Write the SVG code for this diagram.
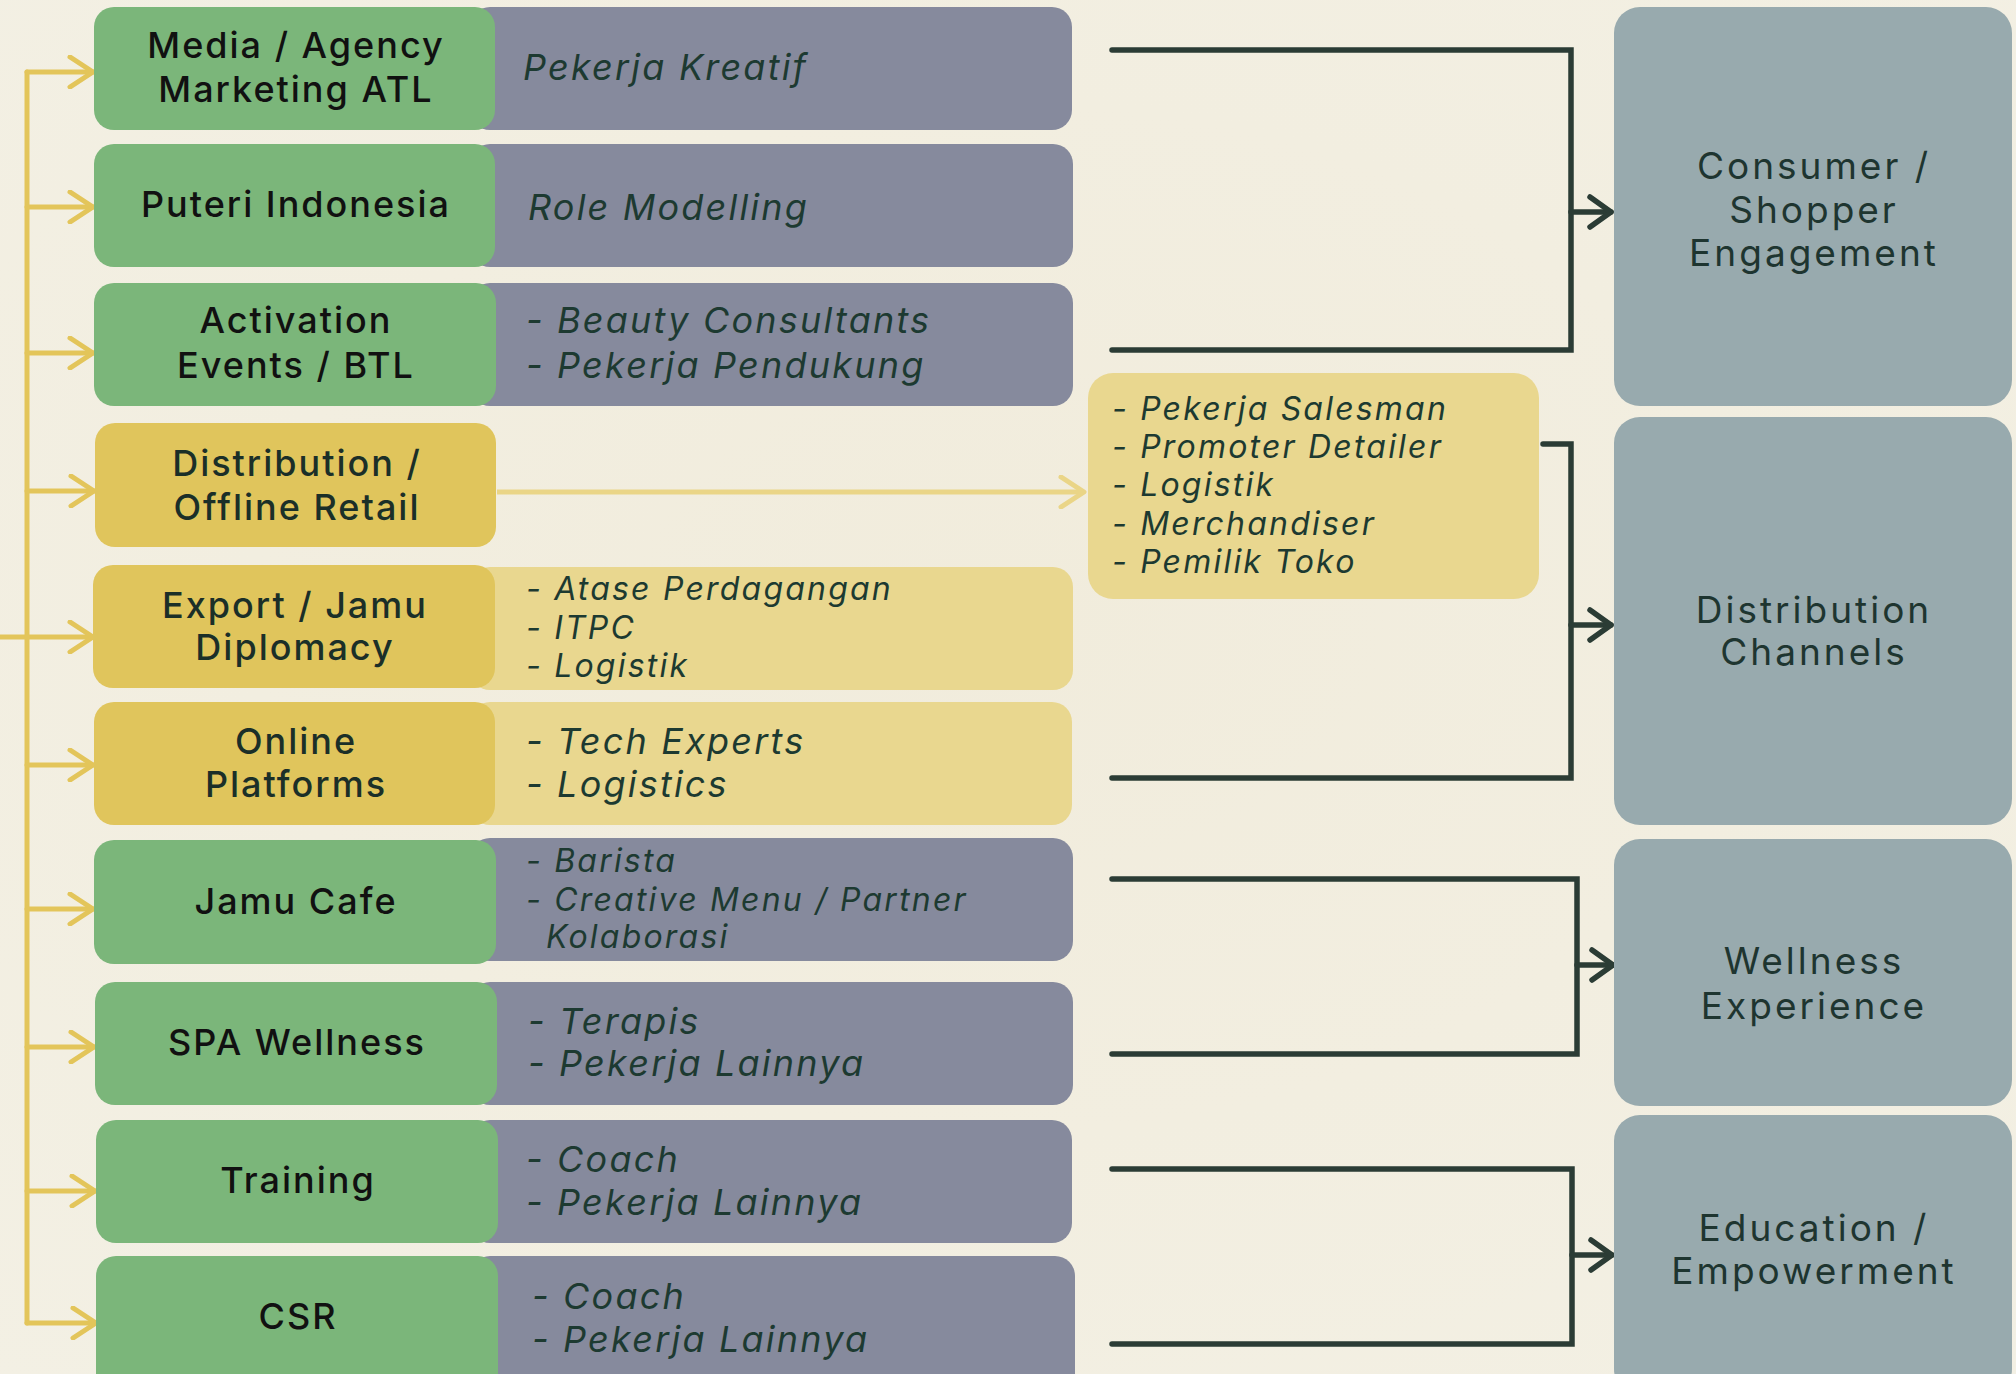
<svg xmlns="http://www.w3.org/2000/svg" width="2016" height="1374" viewBox="0 0 2016 1374">
<defs>
<radialGradient id="bg" cx="0.5" cy="0.45" r="0.75">
<stop offset="0" stop-color="#f1ecdc"/>
<stop offset="1" stop-color="#f3f0e4"/>
</radialGradient>
<marker id="ay" viewBox="0 0 30 34" refX="27" refY="17" markerWidth="30" markerHeight="34" markerUnits="userSpaceOnUse" orient="auto">
<path d="M4 2 L27 17 L4 32" fill="none" stroke="#e3c55a" stroke-width="5" stroke-linecap="round" stroke-linejoin="round"/>
</marker>
<marker id="ayl" viewBox="0 0 30 34" refX="27" refY="17" markerWidth="30" markerHeight="34" markerUnits="userSpaceOnUse" orient="auto">
<path d="M4 2 L27 17 L4 32" fill="none" stroke="#ead587" stroke-width="5" stroke-linecap="round" stroke-linejoin="round"/>
</marker>
<marker id="ad" viewBox="0 0 30 36" refX="26" refY="18" markerWidth="30" markerHeight="36" markerUnits="userSpaceOnUse" orient="auto">
<path d="M5 3 L26 18 L5 33" fill="none" stroke="#2b3c35" stroke-width="5.5" stroke-linecap="round" stroke-linejoin="round"/>
</marker>
</defs>
<style>
.g{fill:#7bb67a}
.y{fill:#e0c55c}
.ly{fill:#e9d78f}
.s{fill:#868a9d}
.r{fill:#98aaae}
.lab{font-family:Inter,"Noto Sans",sans-serif;font-size:36px;font-weight:500;letter-spacing:2px;fill:#111;text-anchor:middle}
.laby{font-family:Inter,"Noto Sans",sans-serif;font-size:36px;font-weight:500;letter-spacing:2px;fill:#1b2f28;text-anchor:middle}
.it{font-family:Inter,"Noto Sans",sans-serif;font-size:36px;font-style:italic;letter-spacing:2.2px;fill:#1d3a31}
.its{font-family:Inter,"Noto Sans",sans-serif;font-size:32px;font-style:italic;letter-spacing:2.2px;fill:#1d3a31}
.rt{font-family:Inter,"Noto Sans",sans-serif;font-size:37px;letter-spacing:3px;fill:#1e3530;text-anchor:middle}
.cy{fill:none;stroke:#e3c55a;stroke-width:5;stroke-linecap:round}
.cd{fill:none;stroke:#2b3c35;stroke-width:5.5;stroke-linecap:round}
</style>
<rect width="2016" height="1374" fill="url(#bg)"/>

<g id="connectors">
<path class="cy" d="M27 72 V1323 M0 637 H27"/>
<path class="cy" d="M27 72 H93" marker-end="url(#ay)"/>
<path class="cy" d="M27 207 H93" marker-end="url(#ay)"/>
<path class="cy" d="M27 353 H93" marker-end="url(#ay)"/>
<path class="cy" d="M27 491 H94" marker-end="url(#ay)"/>
<path class="cy" d="M27 637 H93" marker-end="url(#ay)"/>
<path class="cy" d="M27 765 H93" marker-end="url(#ay)"/>
<path class="cy" d="M27 909 H93" marker-end="url(#ay)"/>
<path class="cy" d="M27 1047 H94" marker-end="url(#ay)"/>
<path class="cy" d="M27 1191 H95" marker-end="url(#ay)"/>
<path class="cy" d="M27 1323 H96" marker-end="url(#ay)"/>
<path d="M497 492 H1084" fill="none" stroke="#ead587" stroke-width="5" marker-end="url(#ayl)"/>
<path class="cd" d="M1112 50 H1571 V350 H1112"/>
<path class="cd" d="M1571 212 H1611" marker-end="url(#ad)"/>
<path class="cd" d="M1543 444 H1571 V778 H1112"/>
<path class="cd" d="M1571 625 H1611" marker-end="url(#ad)"/>
<path class="cd" d="M1112 879 H1577 V1054 H1112"/>
<path class="cd" d="M1577 965 H1613" marker-end="url(#ad)"/>
<path class="cd" d="M1112 1169 H1572 V1344 H1112"/>
<path class="cd" d="M1572 1255 H1612" marker-end="url(#ad)"/>
</g>

<g id="media">
<rect class="s" x="470" y="7" width="602" height="123" rx="20"/>
<rect class="g" x="94" y="7" width="401" height="123" rx="20"/>
<text class="lab" x="296" y="58">Media / Agency</text>
<text class="lab" x="296" y="102">Marketing ATL</text>
<text class="it" x="523" y="80">Pekerja Kreatif</text>
</g>
<g id="puteri">
<rect class="s" x="470" y="144" width="603" height="123" rx="20"/>
<rect class="g" x="94" y="144" width="401" height="123" rx="20"/>
<text class="lab" x="296" y="217">Puteri Indonesia</text>
<text class="it" x="528" y="220">Role Modelling</text>
</g>
<g id="activation">
<rect class="s" x="470" y="283" width="603" height="123" rx="20"/>
<rect class="g" x="94" y="283" width="402" height="123" rx="20"/>
<text class="lab" x="296" y="333">Activation</text>
<text class="lab" x="296" y="378">Events / BTL</text>
<text class="it" x="526" y="333">- Beauty Consultants</text>
<text class="it" x="526" y="378">- Pekerja Pendukung</text>
</g>
<g id="distribution">
<rect class="y" x="95" y="423" width="401" height="124" rx="20"/>
<text class="laby" x="297" y="476">Distribution /</text>
<text class="laby" x="297" y="520">Offline Retail</text>
</g>
<g id="export">
<rect class="ly" x="470" y="567" width="603" height="123" rx="20"/>
<rect class="y" x="93" y="565" width="402" height="123" rx="20"/>
<text class="laby" x="295" y="618">Export / Jamu</text>
<text class="laby" x="295" y="660">Diplomacy</text>
<text class="its" x="526" y="600">- Atase Perdagangan</text>
<text class="its" x="526" y="639">- ITPC</text>
<text class="its" x="526" y="677">- Logistik</text>
</g>
<g id="online">
<rect class="ly" x="470" y="702" width="602" height="123" rx="20"/>
<rect class="y" x="94" y="702" width="401" height="123" rx="20"/>
<text class="laby" x="296" y="754">Online</text>
<text class="laby" x="296" y="797">Platforms</text>
<text class="it" x="526" y="754">- Tech Experts</text>
<text class="it" x="526" y="797">- Logistics</text>
</g>
<g id="jamucafe">
<rect class="s" x="470" y="838" width="603" height="123" rx="20"/>
<rect class="g" x="94" y="840" width="402" height="124" rx="20"/>
<text class="lab" x="296" y="914">Jamu Cafe</text>
<text class="its" x="526" y="872">- Barista</text>
<text class="its" x="526" y="911">- Creative Menu / Partner</text>
<text class="its" x="546" y="948">Kolaborasi</text>
</g>
<g id="spa">
<rect class="s" x="470" y="982" width="603" height="123" rx="20"/>
<rect class="g" x="95" y="982" width="402" height="123" rx="20"/>
<text class="lab" x="297" y="1055">SPA Wellness</text>
<text class="it" x="528" y="1034">- Terapis</text>
<text class="it" x="528" y="1076">- Pekerja Lainnya</text>
</g>
<g id="training">
<rect class="s" x="470" y="1120" width="602" height="123" rx="20"/>
<rect class="g" x="96" y="1120" width="402" height="123" rx="20"/>
<text class="lab" x="298" y="1193">Training</text>
<text class="it" x="526" y="1172">- Coach</text>
<text class="it" x="526" y="1215">- Pekerja Lainnya</text>
</g>
<g id="csr">
<rect class="s" x="470" y="1256" width="605" height="140" rx="20"/>
<rect class="g" x="96" y="1256" width="402" height="140" rx="20"/>
<text class="lab" x="298" y="1329">CSR</text>
<text class="it" x="532" y="1309">- Coach</text>
<text class="it" x="532" y="1352">- Pekerja Lainnya</text>
</g>

<g id="roles-distribution">
<rect class="ly" x="1088" y="373" width="451" height="226" rx="25"/>
<text class="its" x="1112" y="420">- Pekerja Salesman</text>
<text class="its" x="1112" y="458">- Promoter Detailer</text>
<text class="its" x="1112" y="496">- Logistik</text>
<text class="its" x="1112" y="535">- Merchandiser</text>
<text class="its" x="1112" y="573">- Pemilik Toko</text>
</g>

<g id="consumer">
<rect class="r" x="1614" y="7" width="398" height="399" rx="26"/>
<text class="rt" x="1814" y="179">Consumer /</text>
<text class="rt" x="1814" y="223">Shopper</text>
<text class="rt" x="1814" y="266">Engagement</text>
</g>
<g id="channels">
<rect class="r" x="1614" y="417" width="398" height="408" rx="26"/>
<text class="rt" x="1814" y="623">Distribution</text>
<text class="rt" x="1814" y="665">Channels</text>
</g>
<g id="wellness">
<rect class="r" x="1614" y="839" width="398" height="267" rx="26"/>
<text class="rt" x="1814" y="974">Wellness</text>
<text class="rt" x="1814" y="1019">Experience</text>
</g>
<g id="education">
<rect class="r" x="1614" y="1115" width="398" height="280" rx="26"/>
<text class="rt" x="1814" y="1241">Education /</text>
<text class="rt" x="1814" y="1284">Empowerment</text>
</g>
</svg>
